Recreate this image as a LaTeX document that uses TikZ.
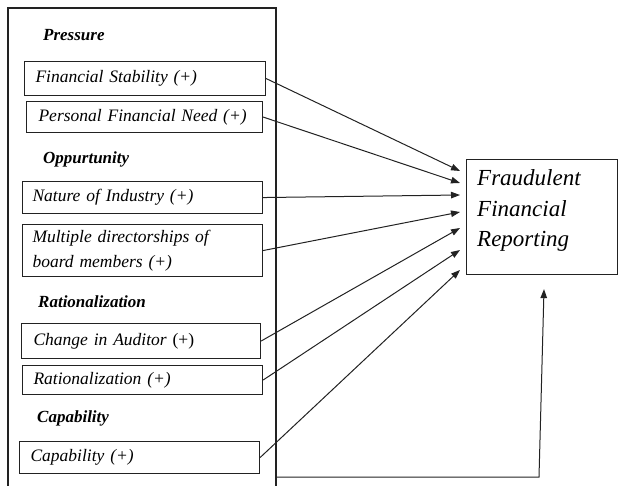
\documentclass[tikz,border=0pt]{standalone}
\usepackage{fontspec}
\setmainfont{Liberation Serif}
\usetikzlibrary{arrows.meta}
\definecolor{ln}{HTML}{222222}
\tikzset{
  ibox/.style={draw=ln, line width=1.1pt, anchor=north west, align=left, inner ysep=0pt,
    font=\fontsize{17.5}{25}\selectfont\itshape},
  cat/.style={anchor=base west, inner sep=0pt, font=\fontsize{17}{20}\selectfont\bfseries\itshape},
  conn/.style={draw=ln, line width=1pt, -{Triangle[length=9pt,width=6.5pt]}},
}
\begin{document}
\begin{tikzpicture}[x=1pt,y=-1pt]
\useasboundingbox (0,0) rectangle (620,486);
% outer group box (open at bottom)
\draw[ln, line width=1.1pt] (8,486) -- (8,8) -- (276,8) -- (276,486);
% category labels
\node[cat] (lp) at (43,41) {Pressure};
\node[cat] (lo) at (43,164) {Oppurtunity};
\node[cat] (lr) at (38,307) {Rationalization};
\node[cat] (lc) at (37,422) {Capability};
% variable boxes
\node[ibox, minimum width=241pt, minimum height=34pt, inner xsep=11pt, text width=219pt] (fs) at (24,61) {Financial Stability (+)};
\node[ibox, minimum width=236pt, minimum height=31pt, inner xsep=12pt, text width=212pt] (pfn) at (26,101) {Personal Financial Need (+)};
\node[ibox, minimum width=240pt, minimum height=32pt, inner xsep=10pt, text width=220pt] (noi) at (22,181) {Nature of Industry (+)};
\node[ibox, minimum width=240pt, minimum height=52pt, inner xsep=10pt, text width=220pt] (md) at (22,224) {Multiple directorships of\\board members (+)};
\node[ibox, minimum width=239pt, minimum height=35pt, inner xsep=12pt, text width=215pt] (cia) at (21,323) {Change in Auditor \upshape(+)};
\node[ibox, minimum width=240pt, minimum height=29pt, inner xsep=11pt, text width=218pt] (rat) at (22,365) {Rationalization (+)};
\node[ibox, minimum width=240pt, minimum height=32pt, inner xsep=11pt, text width=218pt] (cap) at (19,441) {Capability (+)};
% target
\node[draw=ln, line width=1.1pt, anchor=north west, minimum width=151pt, minimum height=115pt, inner sep=0pt] (frr) at (466,159) {};
\node[anchor=base west, inner sep=0pt, align=left, font=\fontsize{23}{30}\selectfont\itshape] (frrt) at (477,246) {Fraudulent\\Financial\\Reporting};
% connectors
\draw[conn] (fs.east) -- ([shift={(-6,12)}]frr.north west);
\draw[conn] (pfn.east) -- ([shift={(-6,24)}]frr.north west);
\draw[conn] (noi.east) -- ([shift={(-6,36)}]frr.north west);
\draw[conn] (md.east) -- ([shift={(-6,53)}]frr.north west);
\draw[conn] (cia.east) -- ([shift={(-6,69)}]frr.north west);
\draw[conn] (rat.east) -- ([shift={(-6,91)}]frr.north west);
\draw[conn] (cap.east) -- ([shift={(-6,111)}]frr.north west);
\coordinate (gout) at (276,477);
\coordinate (gbend) at (539,477);
\draw[conn] (gout) -- (gbend) -- ([shift={(78,14)}]frr.south west);
\end{tikzpicture}
\end{document}
